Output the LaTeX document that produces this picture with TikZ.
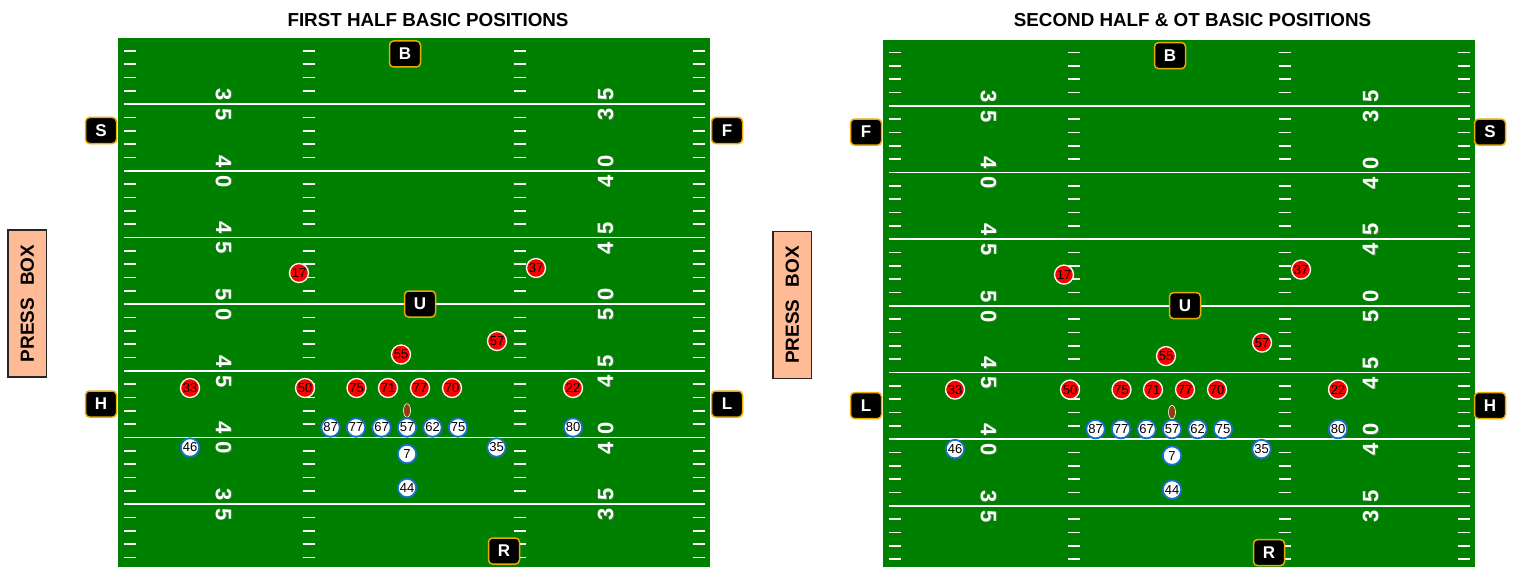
\documentclass[tikz,border=0pt]{standalone}
\usepackage{fontspec}
\setmainfont{Liberation Sans}
\usetikzlibrary{shapes.geometric}
\definecolor{fieldgreen}{RGB}{0,128,0}
\definecolor{tagborder}{RGB}{235,170,0}
\definecolor{offblue}{RGB}{25,110,200}
\definecolor{peach}{RGB}{255,187,150}
\definecolor{ballbrown}{RGB}{150,60,10}
\tikzset{
  yardline/.style={white, line width=1.6pt},
  hashmark/.style={white, line width=1.8pt},
  defense/.style={circle, fill=red, draw=white, line width=1.3pt, minimum size=19pt, inner sep=0pt, font=\fontsize{13}{13}\selectfont},
  offense/.style={circle, fill=white, draw=offblue, line width=1.8pt, minimum size=18.5pt, inner sep=0pt, font=\fontsize{13}{13}\selectfont},
  official/.style={rectangle, rounded corners=4pt, fill=black, draw=tagborder, line width=1.5pt, minimum width=31pt, minimum height=26pt, inner sep=0pt, text=white, font=\bfseries\fontsize{17}{17}\selectfont},
  yardnum/.style={text=white, inner sep=0pt, font=\bfseries\fontsize{22}{22}\selectfont},
  yardshadow/.style={text=black!45, opacity=0.5, inner sep=0pt, font=\bfseries\fontsize{22}{22}\selectfont},
  titletext/.style={anchor=base, inner sep=0pt, font=\bfseries\fontsize{18.8}{19}\selectfont},
  pressbox/.style={rectangle, fill=peach, draw=black!85, line width=1.3pt, minimum width=147pt, minimum height=38.5pt, inner sep=0pt, rotate=90, font=\bfseries\fontsize{19}{19}\selectfont},
  ball/.style={ellipse, fill=ballbrown, draw=white, line width=0.6pt, minimum width=7pt, minimum height=13.5pt, inner sep=0pt}
}
\newcommand{\footballfield}{%
  \fill[fieldgreen] (118,38) rectangle (710,568);
  \foreach \k in {1,...,39}{%
    \pgfmathtruncatemacro\m{mod(\k,5)}%
    \ifnum\m=0
      \draw[yardline] (124,{37.5+13.3333*\k}) -- (705,{37.5+13.3333*\k});
    \else
      \draw[hashmark] (124,{37.5+13.3333*\k}) -- (136,{37.5+13.3333*\k});
      \draw[hashmark] (302.5,{37.5+13.3333*\k}) -- (315,{37.5+13.3333*\k});
      \draw[hashmark] (513.5,{37.5+13.3333*\k}) -- (526,{37.5+13.3333*\k});
      \draw[hashmark] (693,{37.5+13.3333*\k}) -- (705,{37.5+13.3333*\k});
    \fi
  }
  \foreach \j/\a/\b in {1/3/5,2/4/0,3/4/5,4/5/0,5/4/5,6/4/0,7/3/5}{%
    \node[yardshadow, rotate=-90] (numLs\j) at (224.6,{38.3+66.6667*\j}) {\a\hspace{7.8pt}\b};
    \node[yardnum, rotate=-90] (numL\j) at (223.5,{38+66.6667*\j}) {\a\hspace{7.8pt}\b};
    \node[yardshadow, rotate=90] (numRs\j) at (606.6,{38.3+66.6667*\j}) {\a\hspace{7.8pt}\b};
    \node[yardnum, rotate=90] (numR\j) at (605.5,{38+66.6667*\j}) {\a\hspace{7.8pt}\b};
  }
  \node[pressbox] (press) at (27.3,303.5) {PRESS\hspace{12pt}BOX};
  \node[ball] (ball) at (407,410.5) {};
  \foreach \n/\x/\y in {17/299/273, 37/536/268, 57/497/341, 55/401/354.5, 33/190/388, 50/305/388, 75/356.5/388, 71/388/388, 77/420/388, 70/452/388, 22/573/388}{%
    \node[defense] (D\n) at (\x,\y) {\n};
  }
  \foreach \n/\x/\y in {87/330.5/427.5, 77/356/427.5, 67/381.5/427.5, 57/407/427.5, 62/432.5/427.5, 75/458/427.5, 80/573/427.5, 46/190/447.5, 35/496.5/447.5, 7/407/454, 44/407/488}{%
    \node[offense] (O\n) at (\x,\y) {\n};
  }
  \node[official] (B) at (405,54) {B};
  \node[official] (U) at (420,304) {U};
  \node[official] (R) at (504,551) {R};
}
\begin{document}
\begin{tikzpicture}[x=1pt,y=-1pt]
\useasboundingbox (0,0) rectangle (1514,567);
\fill[white] (0,0) rectangle (1514,567);
\node[titletext] (title1) at (428,26.5) {FIRST HALF BASIC POSITIONS};
\node[titletext] (title2) at (1192.5,26.5) {SECOND HALF \& OT BASIC POSITIONS};
\begin{scope}[name prefix=A-]
  \footballfield
  \node[official] (S) at (101,130.5) {S};
  \node[official] (F) at (727,130.5) {F};
  \node[official] (H) at (101,404) {H};
  \node[official] (L) at (727,404) {L};
\end{scope}
\begin{scope}[shift={(765,1.6)}, name prefix=B-]
  \footballfield
  \node[official] (F) at (101,130.5) {F};
  \node[official] (S) at (725,130.5) {S};
  \node[official] (L) at (101,404) {L};
  \node[official] (H) at (725,404) {H};
\end{scope}
\end{tikzpicture}
\end{document}
